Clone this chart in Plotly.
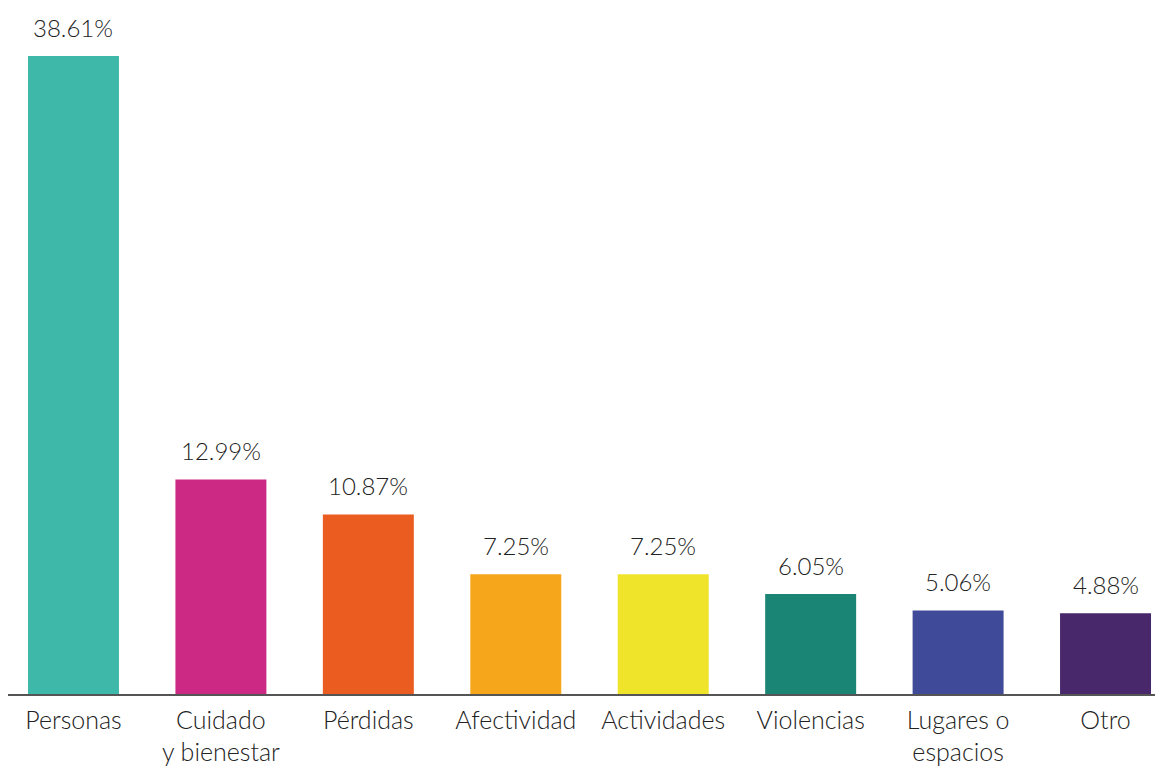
import plotly.graph_objects as go

categorias = ['Personas', 'Cuidado<br>y bienestar', 'Pérdidas', 'Afectividad', 'Actividades',
              'Violencias', 'Lugares o<br>espacios', 'Otro']
valores = [38.61, 12.99, 10.87, 7.25, 7.25, 6.05, 5.06, 4.88]
etiquetas = ['38.61%', '12.99%', '10.87%', '7.25%', '7.25%', '6.05%', '5.06%', '4.88%']
colores = ['#3db8a9', '#cc2985', '#eb5c21', '#f6a61b', '#f0e42b', '#1a8475', '#3f4a98', '#48276b']

fuente = dict(family='Lato', size=25, color='#222222', weight=300)

x_idx = list(range(len(categorias)))

fig = go.Figure()
fig.add_trace(go.Bar(x=x_idx, y=valores, marker=dict(color=colores, line=dict(width=0)),
                     hoverinfo='skip'))

for i, (v, t) in enumerate(zip(valores, etiquetas)):
    fig.add_annotation(x=i, y=v, text=t, showarrow=False, yanchor='bottom', yshift=12,
                       font=dict(family='Lato', size=24, color='#222222', weight=300))

fig.update_layout(
    width=1163, height=768,
    margin=dict(l=0, r=0, t=0, b=82),
    paper_bgcolor='white', plot_bgcolor='white',
    bargap=0.383,
    showlegend=False,
    font=fuente,
)
fig.update_xaxes(tickmode='array', tickvals=x_idx, ticktext=categorias,
                 range=[-0.444, 7.444], showgrid=False, zeroline=False,
                 showline=True, linecolor='#555555', linewidth=1.5,
                 ticks='', tickfont=fuente, ticklabelstandoff=3)
fig.update_yaxes(range=[0, 41.52], visible=False)

fig.write_html('out.html')
